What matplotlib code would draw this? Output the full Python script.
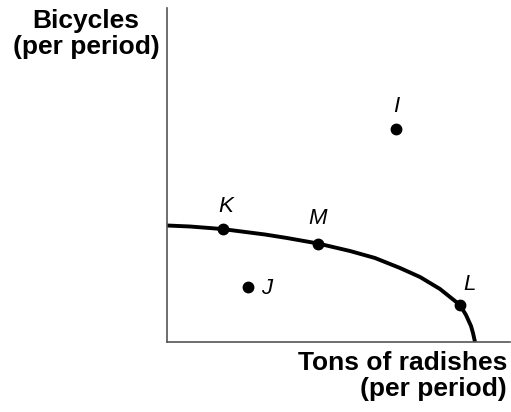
import matplotlib.pyplot as plt

# production possibilities frontier
ppf_x = [0, 23, 55, 98, 120, 151, 183, 208, 233, 253, 273, 283, 293, 299, 304, 306, 308]
ppf_y = [116.5, 115.5, 113, 107.5, 104, 98.5, 91, 84, 74, 65, 53, 45, 37, 27, 16, 9, 0]

# labelled points
point_names = ["K", "M", "L", "J", "I"]
point_x = [56, 151, 293, 81, 229]
point_y = [113, 98.5, 37, 55, 213]
label_x = [59, 151, 302, 100, 229]
label_y = [136, 123, 57, 53, 236]

plt.rcParams['font.family'] = ['Liberation Sans', 'DejaVu Sans']

fig = plt.figure(figsize=(5.11, 4.12), dpi=100)
ax = fig.add_axes([167 / 511, 70 / 412, 343 / 511, 334 / 412])
ax.set_xlim(0, 343)
ax.set_ylim(0, 334)

ax.plot(ppf_x, ppf_y, color="black", linewidth=2.8,
        solid_capstyle="butt", solid_joinstyle="round")
ax.plot(point_x, point_y, "o", color="black", markersize=7.5)

for name, lx, ly in zip(point_names, label_x, label_y):
    ax.text(lx, ly, name, fontsize=16, fontstyle="italic",
            ha="center", va="center")

for side in ["top", "right"]:
    ax.spines[side].set_visible(False)
for side in ["left", "bottom"]:
    ax.spines[side].set_color("#555555")
    ax.spines[side].set_linewidth(1.2)
ax.set_xticks([])
ax.set_yticks([])

fig.text(86 / 511, 1 - 9 / 412, "Bicycles\n(per period)", fontsize=19,
         fontweight="bold", ha="center", va="top", linespacing=1.12)
fig.text(507 / 511, 1 - 351 / 412, "Tons of radishes\n(per period)", fontsize=19,
         fontweight="bold", ha="right", va="top", linespacing=1.12)

fig.savefig("out.png", dpi=100)
